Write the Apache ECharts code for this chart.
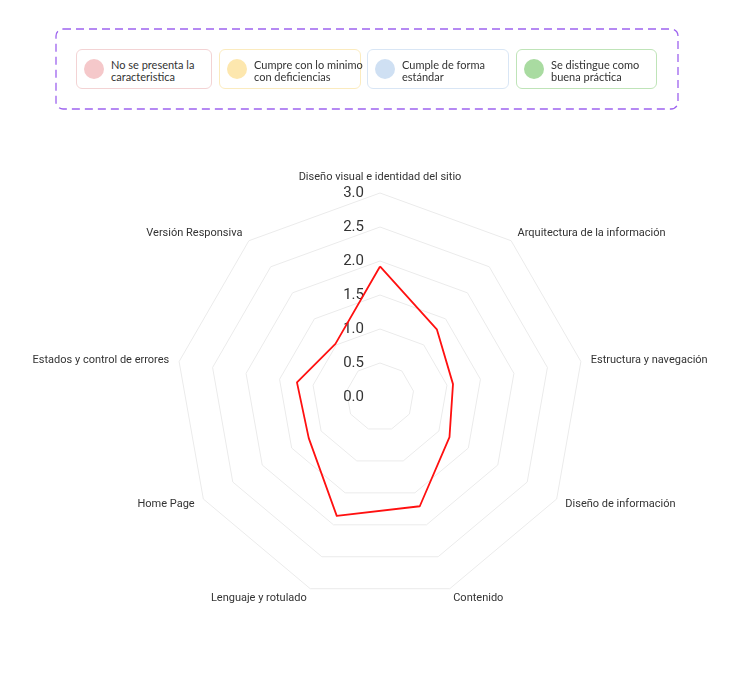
<!DOCTYPE html>
<html>
<head>
<meta charset="utf-8">
<script src="https://cdn.jsdelivr.net/npm/echarts@6/dist/echarts.min.js"></script>
<style>
  html, body { margin:0; padding:0; background:#fff; }
  #chart { position:absolute; left:0; top:0; width:735px; height:683px; }
  #legend { position:absolute; left:55px; top:28px; width:624px; height:82px; }
  #legend svg { position:absolute; left:0; top:0; }
  .item {
    position:absolute; top:21px; height:40px; box-sizing:border-box;
    border:1px solid; border-radius:6px; background:#fff;
    font-family: Lato, sans-serif; font-size:11px; line-height:12px; color:#333;
  }
  .dot { position:absolute; left:7px; top:9px; width:20px; height:20px; border-radius:50%; }
  .txt { position:absolute; left:34px; top:9px; white-space:nowrap; }
</style>
</head>
<body>
<div id="chart"></div>
<div id="legend">
  <svg width="624" height="82"><rect x="1" y="1" width="622" height="80" rx="7" ry="7" fill="none" stroke="#9d63ef" stroke-width="1.3" stroke-dasharray="8 5"/></svg>
</div>
<script>
// Legend categories
var legendLabels = ['No se presenta la<br>caracteristica', 'Cumpre con lo minimo<br>con deficiencias', 'Cumple de forma<br>estándar', 'Se distingue como<br>buena práctica'];
var legendFill = ['#f5c8ca', '#fde7ae', '#cfe0f3', '#a9dba1'];
var legendBorder = ['#f3d3d4', '#fbebbf', '#d9e6f5', '#bfe4b8'];

// Radar indicators (ECharts order, counter-clockwise from top)
var indicatorNames = [
  'Diseño visual e identidad del sitio',
  'Versión Responsiva',
  'Estados y control de errores',
  'Home Page',
  'Lenguaje y rotulado',
  'Contenido',
  'Diseño de información',
  'Estructura y navegación',
  'Arquitectura de la información'
];
var seriesValues = [1.92, 1.02, 1.24, 1.21, 1.86, 1.71, 1.18, 1.09, 1.30];
var axisMax = 3;

var leg = document.getElementById('legend');
var lefts = [21, 164, 312, 461];
var widths = [136, 142, 142, 141];
legendLabels.forEach(function (t, i) {
  var d = document.createElement('div');
  d.className = 'item';
  d.style.left = lefts[i] + 'px';
  d.style.width = widths[i] + 'px';
  d.style.borderColor = legendBorder[i];
  d.innerHTML = '<div class="dot" style="background:' + legendFill[i] + '"></div><div class="txt">' + t + '</div>';
  leg.appendChild(d);
});

var chart = echarts.init(document.getElementById('chart'));
chart.setOption({
  animation: false,
  radar: {
    center: [380, 397],
    radius: 204,
    startAngle: 90,
    shape: 'polygon',
    splitNumber: 6,
    nameGap: 10,
    axisName: { color: '#333', fontSize: 11, fontFamily: 'Roboto' },
    indicator: indicatorNames.map(function (n, i) {
      var o = { name: n, min: 0, max: axisMax };
      if (i > 0) o.axisLabel = { show: false };
      return o;
    }),
    axisLine: { show: false },
    axisTick: { show: false },
    splitArea: { show: false },
    splitLine: { lineStyle: { color: '#ebebeb', width: 1 } },
    axisLabel: {
      show: true, color: '#333', fontSize: 15, fontFamily: 'Roboto', margin: 16,
      formatter: function (v) { return Number(v).toFixed(1); }
    }
  },
  series: [{
    type: 'radar',
    symbol: 'none',
    lineStyle: { color: '#ff1010', width: 1.8 },
    data: [{ value: seriesValues, name: 'Promedio' }]
  }]
});
</script>
</body>
</html>
